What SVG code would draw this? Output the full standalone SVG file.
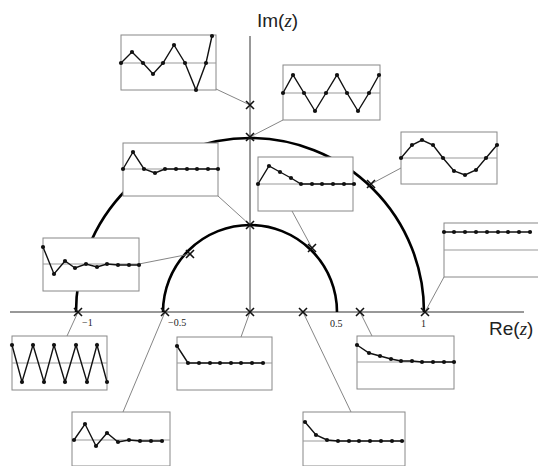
<svg xmlns="http://www.w3.org/2000/svg" width="538" height="466" viewBox="0 0 538 466">
<style>
.ax{stroke:#333;stroke-width:1;fill:none}
.arc{stroke:#000;stroke-width:2.6;fill:none}
.con{stroke:#777;stroke-width:0.9;fill:none}
.box{fill:#fff;stroke:#888;stroke-width:1}
.mid{stroke:#999;stroke-width:1}
.sig{fill:none;stroke:#111;stroke-width:1.4;marker-start:url(#dot);marker-mid:url(#dot);marker-end:url(#dot)}
.x{stroke:#111;stroke-width:1.6}
.lab{font-family:"Liberation Sans",sans-serif;font-size:19px;fill:#222}
.z{font-family:"Liberation Serif",serif;font-style:italic}
.tick{font-family:"Liberation Serif",serif;font-size:10px;fill:#222}
</style>
<defs>
<marker id="dot" markerWidth="6" markerHeight="6" refX="3" refY="3" markerUnits="userSpaceOnUse"><circle cx="3" cy="3" r="2.1" fill="#111"/></marker>
<path id="cr" d="M-4,-4L4,4M-4,4L4,-4"/>
</defs>
<g id="axes">
<line class="ax" x1="10" y1="312" x2="524" y2="312"/>
<line class="ax" x1="250" y1="36" x2="250" y2="312"/>
</g>
<g id="arcs">
<path class="arc" d="M76,312A174,174 0 0 1 424,312"/>
<path class="arc" d="M163,312A87,87 0 0 1 337,312"/>
</g>
<g id="connectors">
<line class="con" x1="216" y1="89" x2="250" y2="105"/>
<line class="con" x1="283" y1="120" x2="250" y2="137"/>
<line class="con" x1="401" y1="168" x2="371" y2="184"/>
<line class="con" x1="218" y1="196" x2="250" y2="225"/>
<line class="con" x1="292" y1="211" x2="312" y2="248"/>
<line class="con" x1="139" y1="264" x2="190" y2="254"/>
<line class="con" x1="444" y1="277" x2="425" y2="312"/>
<line class="con" x1="67" y1="336" x2="78" y2="312"/>
<line class="con" x1="241" y1="337" x2="250" y2="312"/>
<line class="con" x1="372" y1="336" x2="360" y2="312"/>
<line class="con" x1="123" y1="412" x2="165" y2="312"/>
<line class="con" x1="351" y1="412" x2="303" y2="312"/>
</g>
<g id="crosses" class="x">
<use href="#cr" x="250" y="105"/>
<use href="#cr" x="250" y="137"/>
<use href="#cr" x="371" y="184"/>
<use href="#cr" x="250" y="225"/>
<use href="#cr" x="190" y="254"/>
<use href="#cr" x="312" y="248"/>
<use href="#cr" x="78" y="312"/>
<use href="#cr" x="165" y="312"/>
<use href="#cr" x="250" y="312"/>
<use href="#cr" x="303" y="312"/>
<use href="#cr" x="360" y="312"/>
<use href="#cr" x="425" y="312"/>
</g>
<g id="node1">
<rect class="box" x="121" y="35" width="95" height="55"/>
<line class="mid" x1="121" y1="63" x2="216" y2="63"/>
<polyline class="sig" points="121,63 132,52 143,63 153,74 163,63 174,45 185,63 196,90 206,63 212,36"/>
</g>
<g id="node2">
<rect class="box" x="283" y="65" width="97" height="55"/>
<line class="mid" x1="283" y1="93" x2="380" y2="93"/>
<polyline class="sig" points="283,93 293,75 304,93 315,111 326,93 337,75 347,93 358,111 369,93 379,75"/>
</g>
<g id="node3">
<rect class="box" x="401" y="132" width="96" height="52"/>
<line class="mid" x1="401" y1="158" x2="497" y2="158"/>
<polyline class="sig" points="401,158 412,145 422,140 433,145 443,158 454,171 465,175 476,170 486,158 497,145"/>
</g>
<g id="node4">
<rect class="box" x="123" y="143" width="95" height="53"/>
<line class="mid" x1="123" y1="169" x2="218" y2="169"/>
<polyline class="sig" points="123,169 133,152 144,169 155,173 165,169 176,169 187,169 197,169 208,169 218,169"/>
</g>
<g id="node5">
<rect class="box" x="258" y="157" width="95" height="54"/>
<line class="mid" x1="258" y1="184" x2="353" y2="184"/>
<polyline class="sig" points="258,184 269,166 280,172 291,178 301,184 312,184 322,184 333,184 344,184 354,184"/>
</g>
<g id="node6">
<rect class="box" x="43" y="238" width="96" height="53"/>
<line class="mid" x1="43" y1="264" x2="139" y2="264"/>
<polyline class="sig" points="43,247 54,274 65,261 75,268 86,264 97,267 107,264 118,265 129,265 139,265"/>
</g>
<g id="node7">
<rect class="box" x="444" y="223" width="100" height="54"/>
<line class="mid" x1="444" y1="250" x2="538" y2="250"/>
<polyline class="sig" points="444,232 454,232 465,232 476,232 487,232 498,232 508,232 519,232 530,232"/>
</g>
<g id="node8">
<rect class="box" x="12" y="336" width="95" height="54"/>
<line class="mid" x1="12" y1="363" x2="107" y2="363"/>
<polyline class="sig" points="12,345 22,382 33,345 44,382 54,345 65,382 76,345 87,382 97,345 107,382"/>
</g>
<g id="node9">
<rect class="box" x="177" y="337" width="95" height="53"/>
<line class="mid" x1="177" y1="363" x2="272" y2="363"/>
<polyline class="sig" points="177,346 188,363 199,363 210,363 220,363 231,363 241,363 252,363 263,363"/>
</g>
<g id="node10">
<rect class="box" x="357" y="336" width="97" height="53"/>
<line class="mid" x1="357" y1="362" x2="454" y2="362"/>
<polyline class="sig" points="357,345 369,353 380,356 391,359 401,361 412,361 422,362 433,362 444,362 454,362"/>
</g>
<g id="node11">
<rect class="box" x="72" y="412" width="98" height="54"/>
<line class="mid" x1="72" y1="440" x2="170" y2="440"/>
<polyline class="sig" points="74,440 85,424 96,446 107,433 118,442 129,440 140,441 151,441 162,441"/>
</g>
<g id="node12">
<rect class="box" x="303" y="412" width="102" height="54"/>
<line class="mid" x1="303" y1="441" x2="405" y2="441"/>
<polyline class="sig" points="305,422 316,435 327,440 338,441 349,441 359,441 370,441 381,441 392,441 402,441"/>
</g>
<g id="labels">
<text class="lab" x="257" y="27">Im(<tspan class="z">z</tspan>)</text>
<text class="lab" x="489" y="335">Re(<tspan class="z">z</tspan>)</text>
<text class="tick" x="82" y="326">−1</text>
<text class="tick" x="168" y="326">−0.5</text>
<text class="tick" x="330" y="327">0.5</text>
<text class="tick" x="421" y="327">1</text>
</g>
</svg>
